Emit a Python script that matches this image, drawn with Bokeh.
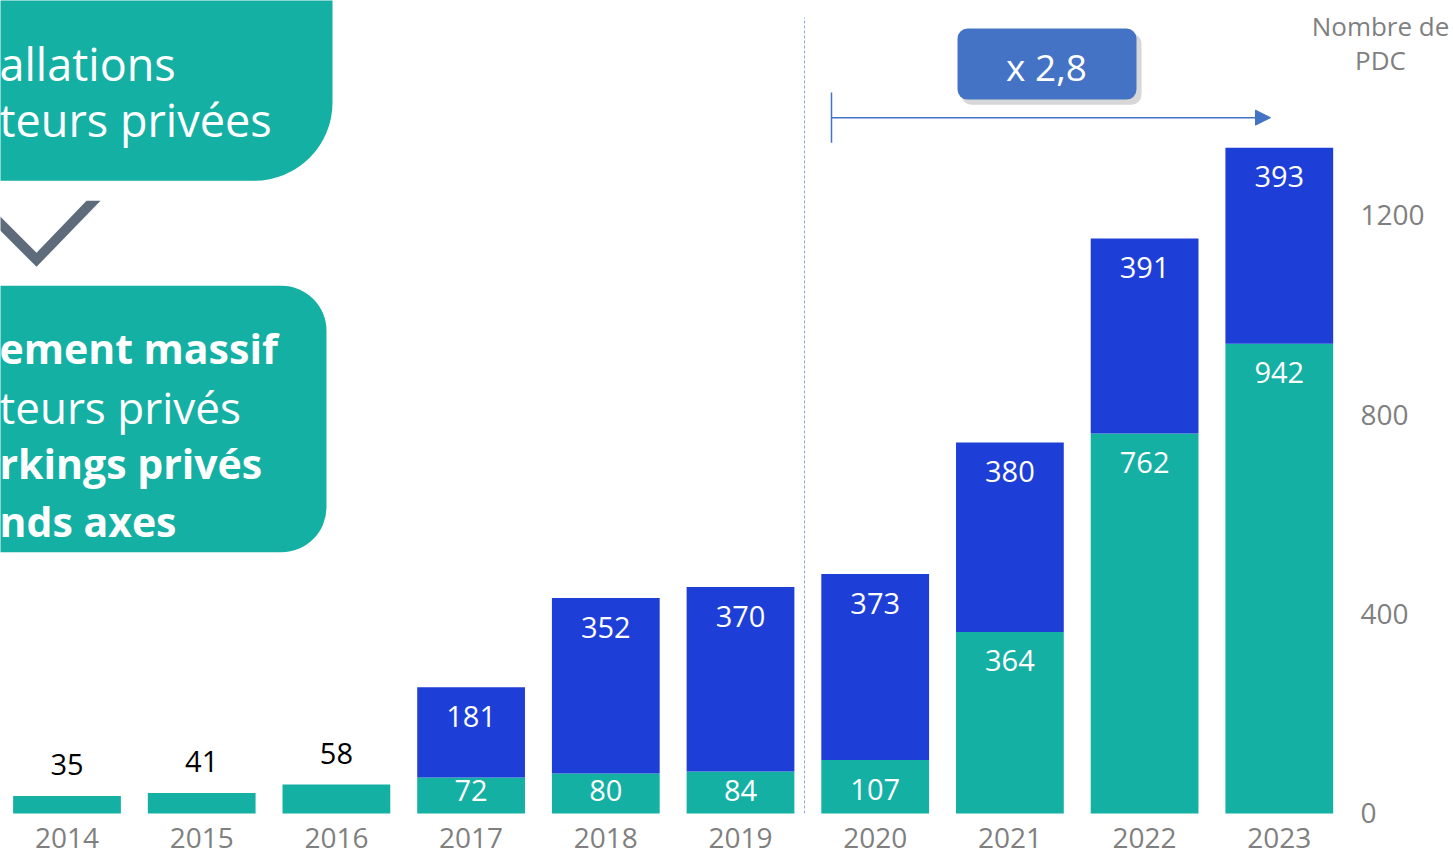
from bokeh.plotting import figure
from bokeh.models import (ColumnDataSource, Range1d, LinearAxis, FixedTicker,
                          Arrow, NormalHead)
from bokeh.core.properties import value
from bokeh.embed import file_html
from bokeh.resources import INLINE

# ---------------- data ----------------
years = [2014, 2015, 2016, 2017, 2018, 2019, 2020, 2021, 2022, 2023]
teal_vals = [35, 41, 58, 72, 80, 84, 107, 364, 762, 942]
blue_vals = [0, 0, 0, 181, 352, 370, 373, 380, 391, 393]
y_ticks = [0, 400, 800, 1200]
axis_title = ["Nombre de", "PDC"]
growth_label = "x 2,8"
box1_lines = ["allations", "teurs privées"]
box2_lines = ["ement massif", "teurs privés", "rkings privés", "nds axes"]
box2_bold = [True, False, True, True]

# ---------------- styling ----------------
TEAL = "#15B0A4"
BLUE = "#1E3ED8"
GREY = "#7F7F7F"
ARROW_BLUE = "#4472C4"
FONT = "Open Sans"

W, H = 1453, 850
FRAME_W = 1453
FRAME_BOTTOM = 829      # where the layout puts the bottom of the frame
BASELINE = 812          # where the value 0 should sit
PX_PER_YEAR = 134.7
PPU = 0.4981            # pixels per unit on the y scale
X0 = 2014 - 66.5 / PX_PER_YEAR
X1 = X0 + FRAME_W / PX_PER_YEAR
Y0 = -(FRAME_BOTTOM - BASELINE) / PPU
Y1 = BASELINE / PPU

def dx(xr):  # picture pixel -> data x (decorations only)
    return X0 + xr / PX_PER_YEAR

def dy(yr):  # picture pixel -> data y (decorations only)
    return (BASELINE - yr) / PPU

p = figure(width=W, height=H, output_backend="svg", toolbar_location=None,
           x_range=Range1d(X0, X1), y_range=Range1d(Y0, Y1),
           min_border_left=0, min_border_top=0, min_border_right=0,
           min_border_bottom=0, outline_line_color=None,
           background_fill_color="white", border_fill_color="white")
p.xaxis.visible = False
p.yaxis.visible = False
p.xgrid.visible = False
p.ygrid.visible = False

# ---------------- left callouts (cut by the canvas edge) ----------------
p.quad(left=[dx(-200)], right=[dx(332)], top=[dy(-200)], bottom=[dy(180)],
       fill_color=TEAL, line_color=None, border_radius=78)
p.quad(left=[dx(-200)], right=[dx(326)], top=[dy(285)], bottom=[dy(551)],
       fill_color=TEAL, line_color=None, border_radius=45)

b1_y = [63, 119]
for t, yy in zip(box1_lines, b1_y):
    p.text(x=[dx(-1)], y=[dy(yy)], text=[t], text_color="white",
           text_font=value(FONT), text_font_size="45px",
           text_baseline="alphabetic", text_align="left")
b2_y = [347, 406, 462, 520]
for t, yy, b in zip(box2_lines, b2_y, box2_bold):
    p.text(x=[dx(-1)], y=[dy(yy)], text=[t], text_color="white",
           text_font=value(FONT), text_font_size="41px" if b else "44px",
           text_font_style="bold" if b else "normal",
           text_baseline="alphabetic", text_align="left")

# chevron
p.patch(x=[dx(-30), dx(36), dx(100), dx(86), dx(36), dx(-16)],
        y=[dy(200), dy(266), dy(200), dy(200), dy(252), dy(200)],
        fill_color="#5E6B7A", line_color=None)

# ---------------- bars ----------------
src_t = ColumnDataSource(dict(x=years, top=teal_vals, bottom=[0] * len(years)))
p.vbar(x="x", top="top", bottom="bottom", width=0.8, source=src_t,
       fill_color=TEAL, line_color=None)
src_b = ColumnDataSource(dict(
    x=[y for y, b in zip(years, blue_vals) if b > 0],
    bottom=[t for t, b in zip(teal_vals, blue_vals) if b > 0],
    top=[t + b for t, b in zip(teal_vals, blue_vals) if b > 0]))
p.vbar(x="x", top="top", bottom="bottom", width=0.8, source=src_b,
       fill_color=BLUE, line_color=None)

# value labels
off = 29 / PPU
lx, ly, lt, lc = [], [], [], []
for yr, t, b in zip(years, teal_vals, blue_vals):
    if b > 0:
        lx.append(yr); ly.append(max(t - off, 23 / PPU)); lt.append(str(t)); lc.append("white")
        lx.append(yr); ly.append(t + b - off); lt.append(str(b)); lc.append("white")
    else:
        lx.append(yr); ly.append(t + 31 / PPU); lt.append(str(t)); lc.append("black")
p.text(x="x", y="y", text="t", text_color="c",
       source=ColumnDataSource(dict(x=lx, y=ly, t=lt, c=lc)),
       text_font=value(FONT), text_font_size="29px",
       text_align="center", text_baseline="middle")

# ---------------- annotations ----------------
# dashed separator between 2019 and 2020
p.segment(x0=[dx(804)], y0=[0], x1=[dx(804)], y1=[dy(17)],
          line_color="#8EA9DB", line_dash="3 2", line_width=1)

# growth arrow
p.segment(x0=[dx(831)], y0=[dy(92)], x1=[dx(831)], y1=[dy(142)],
          line_color=ARROW_BLUE, line_width=1.5)
p.add_layout(Arrow(x_start=dx(831), y_start=dy(117), x_end=dx(1270), y_end=dy(117),
                   line_color=ARROW_BLUE, line_width=1.5,
                   end=NormalHead(size=15, fill_color=ARROW_BLUE, line_color=ARROW_BLUE)))

# growth box with shadow
p.quad(left=[dx(961)], right=[dx(1141)], top=[dy(33)], bottom=[dy(104)],
       fill_color="#8C8C8C", fill_alpha=0.35, line_color=None, border_radius=10)
p.quad(left=[dx(957)], right=[dx(1136)], top=[dy(28)], bottom=[dy(99)],
       fill_color=ARROW_BLUE, line_color=None, border_radius=10)
p.text(x=[dx(1046)], y=[dy(66)], text=[growth_label], text_color="white",
       text_font=value(FONT), text_font_size="37px",
       text_align="center", text_baseline="middle")

# axis title (top right)
p.text(x=[dx(1380)] * 2, y=[dy(25), dy(59)], text=axis_title, text_color=GREY,
       text_font=value(FONT), text_font_size="26px",
       text_align="center", text_baseline="middle")

# ---------------- axes ----------------
xax = LinearAxis(ticker=FixedTicker(ticks=years))
xax.axis_line_color = None
xax.major_tick_line_color = None
xax.minor_tick_line_color = None
xax.major_tick_out = 0
xax.major_tick_in = 0
xax.major_label_standoff = -3
xax.major_label_text_font = FONT
xax.major_label_text_font_size = "28px"
xax.major_label_text_color = GREY
p.add_layout(xax, "below")

yax = LinearAxis(ticker=FixedTicker(ticks=y_ticks))
yax.axis_line_color = None
yax.major_tick_line_color = None
yax.minor_tick_line_color = None
yax.major_tick_out = 0
yax.major_tick_in = 0
yax.major_label_standoff = -93
yax.major_label_text_font = FONT
yax.major_label_text_font_size = "28px"
yax.major_label_text_color = GREY
p.add_layout(yax, "right")

open("out.html", "w").write(file_html(p, INLINE))
